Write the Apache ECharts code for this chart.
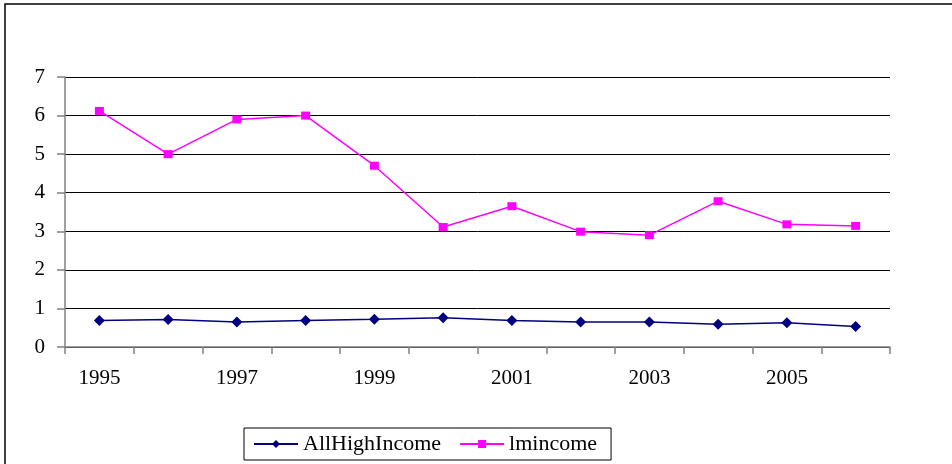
<!DOCTYPE html>
<html>
<head>
<meta charset="utf-8">
<script src="https://cdn.jsdelivr.net/npm/echarts@6/dist/echarts.min.js"></script>
<style>
  html, body { margin: 0; padding: 0; background: #fff; }
  #chart { width: 952px; height: 464px; }
</style>
</head>
<body>
<div id="chart"></div>
<script>
// Years on the category axis
const years = ['1995', '1996', '1997', '1998', '1999', '2000', '2001', '2002', '2003', '2004', '2005', '2006'];
// Series values
const allHighIncome = [0.69, 0.71, 0.65, 0.69, 0.72, 0.76, 0.69, 0.65, 0.65, 0.59, 0.63, 0.53];
const lmincome = [6.12, 5.0, 5.9, 6.0, 4.7, 3.11, 3.65, 2.99, 2.9, 3.78, 3.18, 3.14];
// Value axis range
const yMin = 0, yMax = 7, yStep = 1;

const serif = '"Liberation Serif", "Times New Roman", serif';

const chart = echarts.init(document.getElementById('chart'), null, { renderer: 'canvas' });
chart.setOption({
  animation: false,
  backgroundColor: '#ffffff',
  graphic: [{
    type: 'rect',
    shape: { x: 5, y: 4, width: 1000, height: 1000 },
    style: { fill: 'none', stroke: '#000', lineWidth: 1.5 },
    silent: true
  }],
  grid: { left: 65, right: 62, top: 77, bottom: 117, containLabel: false },
  xAxis: {
    type: 'category',
    data: years,
    boundaryGap: true,
    axisLine: { show: true, lineStyle: { color: '#808080', width: 1.5 } },
    axisTick: { show: true, length: 7, inside: false, alignWithLabel: false, interval: 0, lineStyle: { color: '#808080', width: 1.5 } },
    axisLabel: { interval: 1, margin: 21, fontFamily: serif, fontSize: 21, color: '#000' },
    splitLine: { show: false }
  },
  yAxis: {
    type: 'value',
    min: yMin, max: yMax, interval: yStep,
    axisLine: { show: true, lineStyle: { color: '#808080', width: 1.5 } },
    axisTick: { show: true, length: 8, lineStyle: { color: '#808080', width: 1.5 } },
    axisLabel: { margin: 20, fontFamily: serif, fontSize: 21, color: '#000' },
    splitLine: { show: true, lineStyle: { color: '#000', width: 1 } }
  },
  legend: {
    left: 244, top: 428,
    padding: [5, 14, 5, 9],
    borderColor: '#000', borderWidth: 1,
    itemWidth: 44, itemHeight: 10, itemGap: 18,
    textStyle: { fontFamily: serif, fontSize: 22, color: '#000' },
    data: ['AllHighIncome', 'lmincome']
  },
  series: [
    {
      name: 'AllHighIncome',
      type: 'line',
      data: allHighIncome,
      symbol: 'diamond',
      symbolSize: [11, 11],
      showAllSymbol: true,
      itemStyle: { color: '#000080' },
      lineStyle: { color: '#000080', width: 1.5 }
    },
    {
      name: 'lmincome',
      type: 'line',
      data: lmincome,
      symbol: 'rect',
      symbolSize: [9, 8],
      showAllSymbol: true,
      itemStyle: { color: '#ff00ff' },
      lineStyle: { color: '#ff00ff', width: 1.5 }
    }
  ]
});
</script>
</body>
</html>
